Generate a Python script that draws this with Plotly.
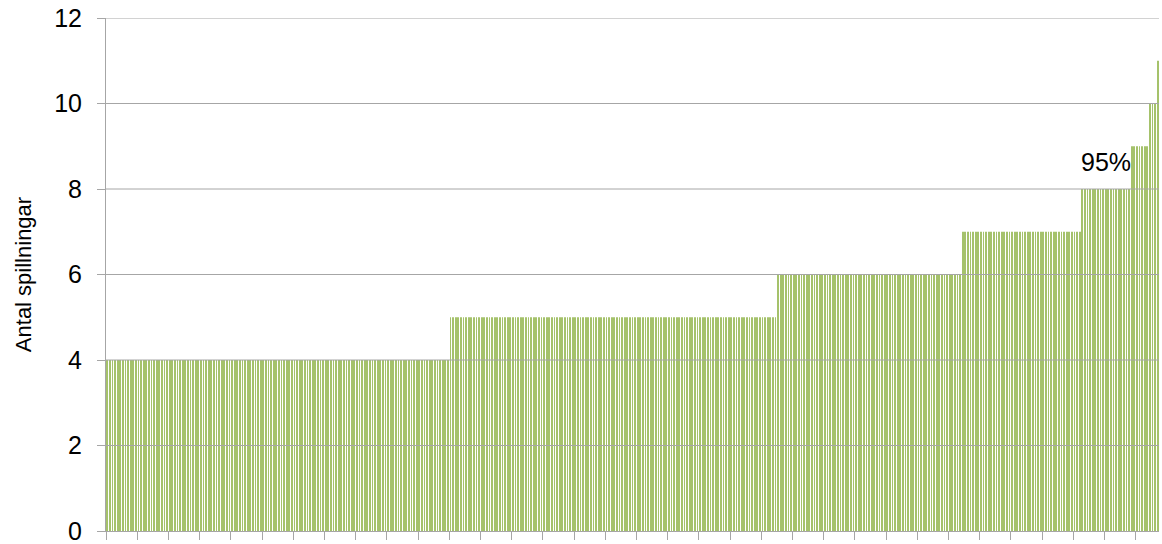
import plotly.graph_objects as go

# sorted counts: how many samples fall on each level
levels = [4, 5, 6, 7, 8, 9, 10, 11]
counts = [132, 126, 71, 46, 19, 7, 3, 1]

y_ticks = [0, 2, 4, 6, 8, 10, 12]
y_title = "Antal spillningar"
pct_label = "95%"
pct_index = 385  # bar where the 95th percentile sits

values = []
for lvl, n in zip(levels, counts):
    values += [lvl] * n
x = list(range(1, len(values) + 1))

grid = "#a6a6a6"
font = "Liberation Sans, Arial, sans-serif"

fig = go.Figure(go.Bar(
    x=x,
    y=values,
    marker=dict(color="#a5c26b", line=dict(width=0)),
    showlegend=False,
))

# gridlines sit on top of the thin bars, as in the original
for t in y_ticks[1:]:
    fig.add_shape(type="line", xref="paper", x0=0, x1=1, yref="y", y0=t, y1=t,
                  line=dict(color=grid, width=1), layer="above")

fig.add_annotation(
    x=pct_index, y=values[pct_index - 1],
    text=pct_label, showarrow=False,
    yanchor="bottom", yshift=11,
    font=dict(size=25, color="#000000", family=font),
)

fig.update_layout(
    width=1162, height=544,
    margin=dict(l=106, r=3, t=18, b=13),
    paper_bgcolor="white", plot_bgcolor="white",
    bargap=0.62,
    font=dict(family=font, color="#000000"),
)
fig.update_xaxes(
    range=[0.5, len(values) + 0.5],
    tickvals=[0.5 + 12 * k for k in range(len(values) // 12 + 1)],
    showticklabels=False,
    ticks="outside", ticklen=8, tickcolor=grid, tickwidth=1,
    showline=True, linecolor=grid, linewidth=1,
    showgrid=False, zeroline=False, automargin=False,
)
fig.update_yaxes(
    range=[0, 12],
    tickvals=y_ticks,
    ticks="outside", ticklen=8, tickcolor=grid, tickwidth=1,
    showline=True, linecolor=grid, linewidth=1,
    showgrid=False, zeroline=False, automargin=False,
    ticklabeloverflow="allow",
    tickfont=dict(size=25, family=font),
    ticklabelstandoff=10,
    title=dict(text=y_title, font=dict(size=22, family=font), standoff=16),
)

# drop the default page margin so the figure fills the window exactly
fig.write_html(
    "out.html",
    config={"displayModeBar": False},
    post_script="document.body.style.margin='0';document.body.style.overflow='hidden';",
)
